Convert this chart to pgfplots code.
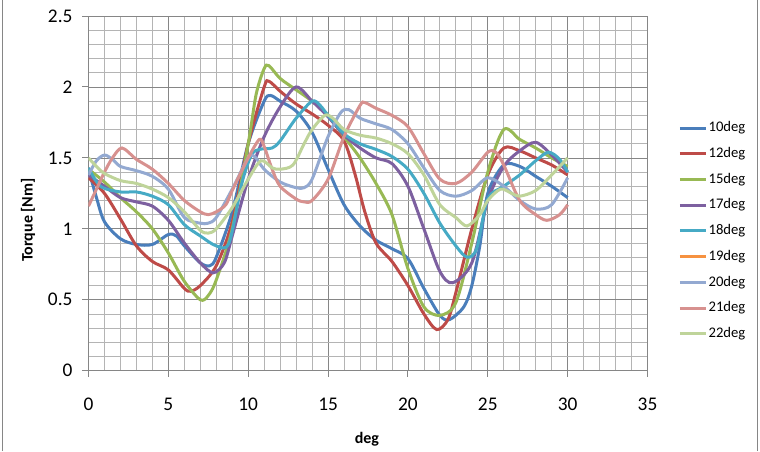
\documentclass[border=0pt]{standalone}
\usepackage{pgfplots}
\pgfplotsset{compat=1.18}
\usepackage{fontspec}
\setmainfont{Carlito}
\definecolor{c10}{HTML}{4A7EBB}
\definecolor{c12}{HTML}{BE4B48}
\definecolor{c15}{HTML}{98B954}
\definecolor{c17}{HTML}{7D60A0}
\definecolor{c18}{HTML}{46AAC5}
\definecolor{c19}{HTML}{F69240}
\definecolor{c20}{HTML}{93A9D1}
\definecolor{c21}{HTML}{D7918F}
\definecolor{c22}{HTML}{BFD49A}
\definecolor{gmaj}{HTML}{868686}
\definecolor{gmin}{HTML}{B4B4B4}
\begin{document}
\begin{tikzpicture}
\useasboundingbox (-66.375pt,-60.225pt) rectangle (503.625pt,278.025pt);
\draw[gmaj,line width=0.75pt] (-64.5pt,-60.225pt) -- (-64.5pt,278.025pt);
\draw[gmaj,line width=0.75pt] (501.75pt,-60.225pt) -- (501.75pt,278.025pt);
\begin{axis}[
  at={(0,0)}, anchor=south west,
  scale only axis, width=419.25pt, height=266pt,
  xmin=0, xmax=35, ymin=0, ymax=2.5,
  xtick={0,5,...,35}, ytick={0,0.5,...,2.5},
  minor x tick num=4, minor y tick num=4,
  grid=both,
  major grid style={draw=gmaj, line width=0.6pt},
  minor grid style={draw=gmin, line width=0.6pt},
  axis line style={draw=gmaj, line width=0.75pt},
  tick style={draw=gmaj, line width=0.75pt},
  major tick length=4.5pt, minor tick length=0pt,
  tick align=outside, xtick pos=left, ytick pos=left,
  /pgf/number format/assume math mode=true,
  ticklabel style={font=\fontsize{14.5}{17}\selectfont},
  xticklabel style={anchor=center, yshift=-20.5pt},
  yticklabel style={xshift=-4pt},
  xlabel={\textbf{deg}}, ylabel={\textbf{Torque [Nm]}},
  xlabel style={font=\fontsize{12}{14}\selectfont, at={(axis description cs:0.498,-0.1926)}, anchor=center},
  ylabel style={font=\fontsize{12}{14}\selectfont, at={(axis description cs:-0.108,0.425)}, anchor=center, rotate=0},
  legend style={at={(1.0546,0.394)}, anchor=west, draw=none, fill=none,
    font=\fontsize{11}{13}\selectfont, row sep=6.8pt, inner sep=0pt,
    nodes={inner sep=1pt, text height=8pt, text depth=2.5pt}},
  legend cell align=left,
  legend image code/.code={\draw[#1] (0pt,0pt) -- (19.5pt,0pt);},
  every axis plot/.append style={line width=2.25pt, smooth, tension=0.5},
]
\addplot[c10] coordinates {(0,1.42)(0.5,1.22)(1,1.05)(2,0.93)(3,0.89)(4,0.89)(5,0.96)(5.5,0.95)(6,0.88)(7,0.76)(7.6,0.74)(8,0.8)(9,1.12)(10,1.6)(11,1.9)(11.4,1.94)(12,1.9)(13,1.83)(14,1.68)(15,1.42)(16,1.17)(17,1.02)(18,0.92)(19,0.86)(20,0.79)(21,0.58)(22,0.39)(22.6,0.36)(23.5,0.45)(24,0.6)(24.5,0.88)(25,1.25)(26,1.45)(27,1.44)(28,1.37)(29,1.3)(30,1.22)};
\addlegendentry{10deg}
\addplot[c12] coordinates {(0,1.36)(1,1.25)(2,1.07)(3,0.88)(4,0.77)(5,0.71)(6,0.58)(6.4,0.56)(7,0.6)(8,0.74)(9,1.05)(10,1.6)(11,2.0)(11.3,2.04)(12,1.97)(13,1.88)(14,1.81)(15,1.73)(16,1.62)(16.7,1.38)(17.3,1.12)(18,0.9)(19,0.77)(20,0.6)(21,0.4)(21.8,0.29)(22.5,0.36)(23,0.55)(24,1.0)(25,1.38)(26,1.57)(27,1.55)(28,1.5)(29,1.45)(30,1.38)};
\addlegendentry{12deg}
\addplot[c15] coordinates {(0,1.42)(1,1.33)(2,1.22)(3,1.12)(4,1.0)(5,0.83)(6,0.63)(7,0.5)(7.5,0.53)(8,0.64)(9,1.0)(10,1.6)(10.5,1.95)(11,2.13)(11.3,2.15)(12,2.06)(13,1.98)(14,1.9)(15,1.8)(16,1.65)(17,1.5)(18,1.32)(19,1.1)(20,0.72)(21,0.45)(22,0.39)(23,0.48)(24,0.9)(25,1.4)(26,1.7)(27,1.63)(28,1.57)(29,1.5)(30,1.44)};
\addlegendentry{15deg}
\addplot[c17] coordinates {(0,1.38)(1,1.3)(2,1.22)(3,1.19)(4,1.16)(5,1.06)(6,0.9)(7,0.76)(7.8,0.69)(8.5,0.76)(9,0.95)(10,1.35)(11,1.65)(12,1.86)(13,2.0)(14,1.9)(15,1.79)(16,1.66)(17,1.57)(18,1.5)(19,1.46)(20,1.3)(21,1.0)(22,0.7)(22.8,0.62)(24,0.76)(25,1.2)(26,1.44)(27,1.55)(28,1.61)(29,1.52)(30,1.4)};
\addlegendentry{17deg}
\addplot[c18] coordinates {(0,1.43)(0.75,1.3)(2,1.26)(3,1.26)(4,1.23)(5,1.17)(6,1.03)(7,0.95)(8,0.88)(8.8,0.9)(9.6,1.32)(10.2,1.52)(10.7,1.56)(11.5,1.57)(12,1.62)(13,1.78)(14,1.9)(14.5,1.87)(15,1.8)(16,1.67)(17,1.6)(18,1.56)(19,1.51)(20,1.42)(21,1.25)(22,1.04)(23,0.88)(23.7,0.8)(24.3,0.86)(25,1.21)(26,1.3)(27,1.38)(28,1.48)(28.8,1.54)(29.5,1.49)(30,1.4)};
\addlegendentry{18deg}
\addlegendimage{c19, line width=2.25pt}
\addlegendentry{19deg}
\addplot[c20] coordinates {(0,1.38)(0.5,1.48)(1,1.52)(1.5,1.49)(2,1.44)(3,1.41)(4,1.37)(5,1.28)(6,1.08)(7,1.04)(7.5,1.04)(8,1.08)(9,1.28)(10,1.5)(10.4,1.51)(11,1.42)(12,1.33)(13,1.29)(13.5,1.29)(14,1.35)(15,1.65)(15.8,1.82)(16.3,1.84)(17,1.78)(18,1.74)(19,1.7)(20,1.6)(21,1.43)(22,1.27)(23,1.23)(24,1.27)(25,1.36)(26,1.3)(27,1.2)(28,1.14)(29,1.17)(30,1.36)};
\addlegendentry{20deg}
\addplot[c21] coordinates {(0,1.16)(0.5,1.28)(1,1.4)(1.5,1.5)(2.1,1.57)(3,1.49)(4,1.42)(5,1.32)(6,1.2)(7,1.12)(7.5,1.1)(8,1.12)(8.6,1.17)(9,1.27)(10,1.5)(10.7,1.63)(11,1.58)(11.5,1.42)(12,1.3)(13,1.21)(13.5,1.19)(14,1.2)(15,1.35)(16,1.65)(17,1.87)(17.3,1.89)(18,1.85)(19,1.8)(20,1.72)(21,1.53)(22,1.35)(23,1.32)(24,1.4)(25,1.54)(25.5,1.54)(26,1.45)(27,1.2)(28,1.1)(28.7,1.06)(29.5,1.1)(30,1.17)};
\addlegendentry{21deg}
\addplot[c22] coordinates {(0,1.5)(0.5,1.44)(1,1.39)(2,1.34)(3,1.32)(4,1.28)(5,1.22)(6,1.12)(7,0.99)(7.5,0.97)(8,1.0)(9,1.15)(10,1.35)(10.8,1.48)(11.5,1.43)(12,1.42)(12.8,1.45)(13.5,1.6)(14,1.7)(14.8,1.8)(15.3,1.78)(16,1.7)(17,1.66)(18,1.64)(19,1.6)(20,1.53)(21,1.38)(22,1.17)(23,1.08)(23.7,1.02)(24.5,1.1)(25,1.2)(25.8,1.28)(26.5,1.25)(27,1.23)(28,1.27)(29,1.38)(30,1.5)};
\addlegendentry{22deg}
\end{axis}
\end{tikzpicture}
\end{document}
